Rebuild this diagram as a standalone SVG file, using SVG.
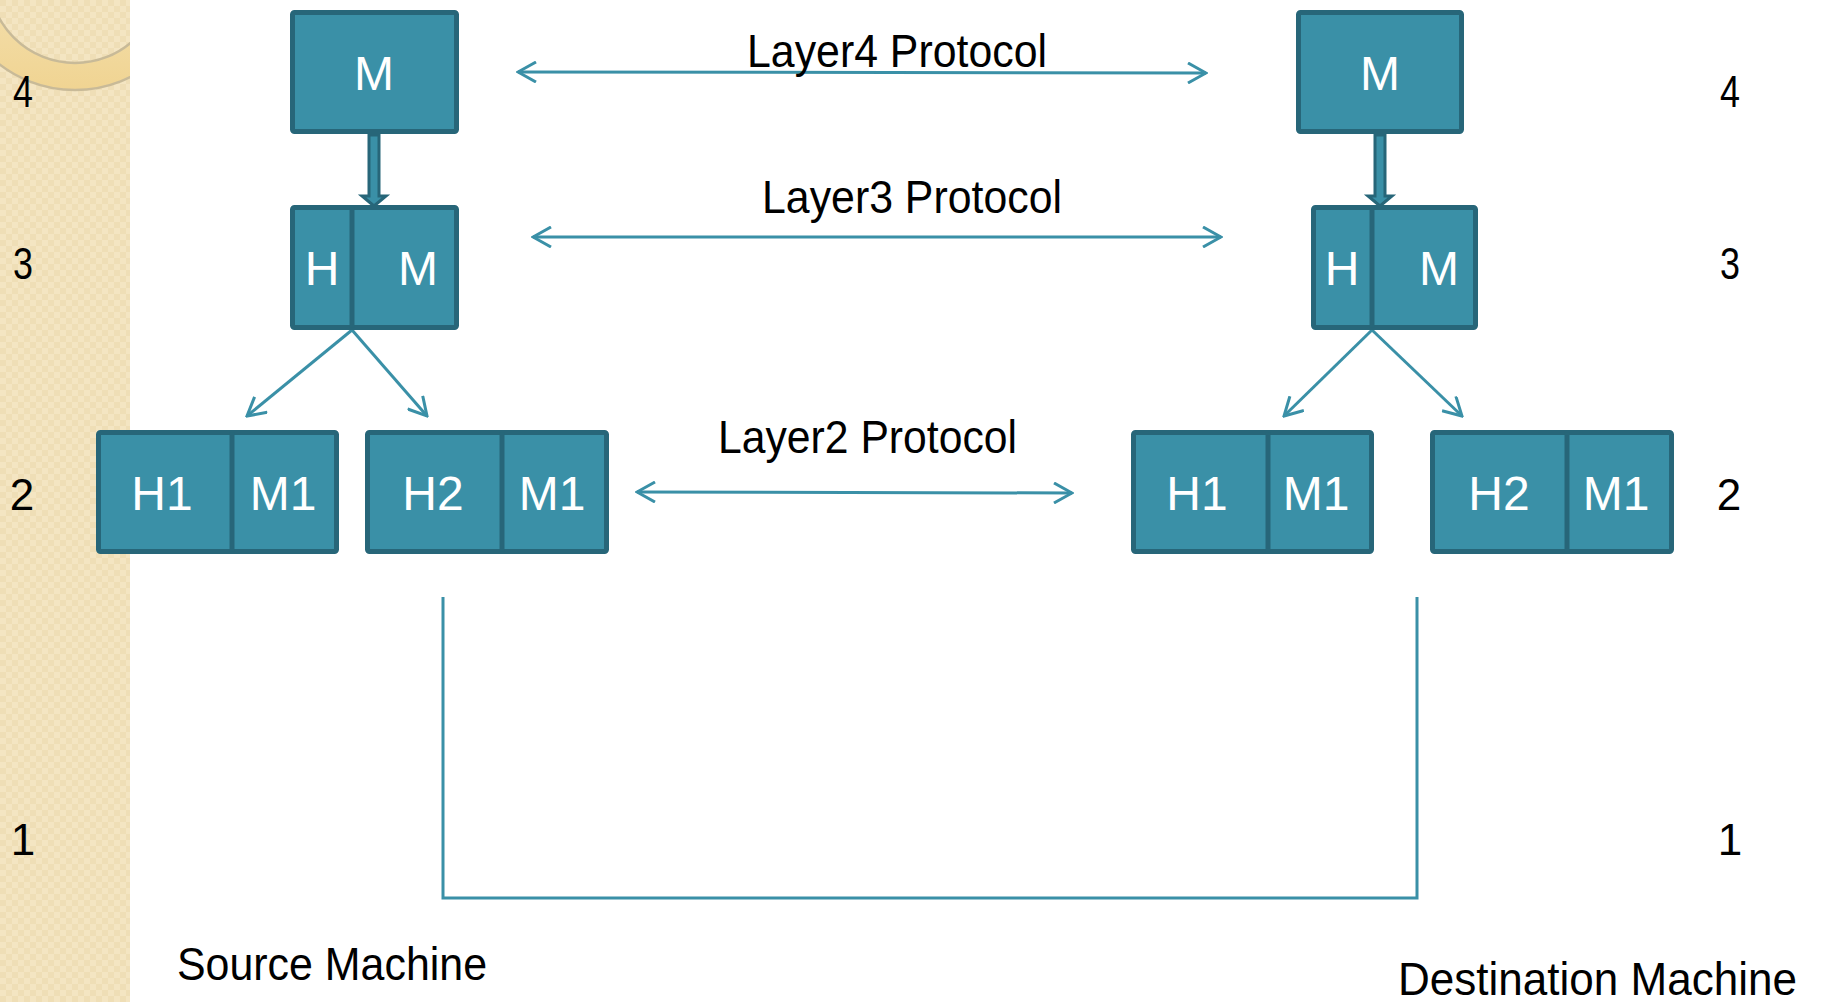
<svg xmlns="http://www.w3.org/2000/svg" width="1821" height="1002" viewBox="0 0 1821 1002">
<style>
.box{fill:#3A90A7;stroke:#276679;stroke-width:5}
.div{stroke:#276679;stroke-width:5}
.bt{font-family:"Liberation Sans",Arial,sans-serif;font-size:48px;fill:#FFFFFF;text-anchor:middle}
.lbl{font-family:"Liberation Sans",Arial,sans-serif;font-size:46px;fill:#000000}
.num{font-family:"Liberation Sans",Arial,sans-serif;font-size:44px;fill:#000000;text-anchor:middle}
.con{fill:none;stroke:#3A90A7;stroke-width:3}
.blk{fill:#3A90A7;stroke:#276679;stroke-width:3;stroke-linejoin:miter}
</style>
<defs>
<pattern id="chk" width="12" height="12" patternUnits="userSpaceOnUse">
<rect width="12" height="12" fill="#F4E5C2"/>
<rect width="6" height="6" fill="#EFDEB6"/>
<rect x="6" y="6" width="6" height="6" fill="#EFDEB6"/>
</pattern>
<linearGradient id="ring" x1="0" y1="0" x2="0" y2="1">
<stop offset="0" stop-color="#F6E7C4"/>
<stop offset="0.5" stop-color="#F5E2B4"/>
<stop offset="1" stop-color="#F0D492"/>
</linearGradient>
<clipPath id="barclip"><rect x="0" y="0" width="130" height="1002"/></clipPath>
<marker id="ah" viewBox="0 0 22 22" refX="20" refY="11" markerWidth="22" markerHeight="22" markerUnits="userSpaceOnUse" orient="auto-start-reverse">
<path d="M2,1 L20,11 L2,21" fill="none" stroke="#3A90A7" stroke-width="3"/>
</marker>
</defs>
<rect x="0" y="0" width="1821" height="1002" fill="#FFFFFF"/>
<g id="sidebar">
<rect x="0" y="0" width="130" height="1002" fill="url(#chk)"/>
<g clip-path="url(#barclip)">
<path d="M-49,-34 a124,124 0 1,0 248,0 a124,124 0 1,0 -248,0 Z M-11.5,-23.5 a86.5,86.5 0 1,1 173,0 a86.5,86.5 0 1,1 -173,0 Z" fill="url(#ring)" fill-rule="evenodd"/>
<circle cx="75" cy="-34" r="124" fill="none" stroke="#C8BA98" stroke-width="2.5"/>
<circle cx="75" cy="-23.5" r="86.5" fill="none" stroke="#C8BA98" stroke-width="2.5"/>
</g>
</g>
<g id="connectors">
<polygon class="blk" points="369,135 379,135 379,196 386,196 374,206 362,196 369,196"/>
<polygon class="blk" points="1375,135 1385,135 1385,196 1392,196 1380,206 1368,196 1375,196"/>
<line class="con" x1="352" y1="330" x2="247" y2="416" marker-end="url(#ah)"/>
<line class="con" x1="352" y1="330" x2="427" y2="416" marker-end="url(#ah)"/>
<line class="con" x1="1372" y1="330" x2="1284" y2="416" marker-end="url(#ah)"/>
<line class="con" x1="1372" y1="330" x2="1462" y2="416" marker-end="url(#ah)"/>
<line class="con" x1="518" y1="72" x2="1206" y2="73" marker-start="url(#ah)" marker-end="url(#ah)"/>
<line class="con" x1="533" y1="237" x2="1221" y2="237" marker-start="url(#ah)" marker-end="url(#ah)"/>
<line class="con" x1="637" y1="492" x2="1072" y2="493" marker-start="url(#ah)" marker-end="url(#ah)"/>
<polyline class="con" points="443,597 443,898 1417,898 1417,597"/>
</g>
<g id="src-l4">
<rect class="box" x="292.5" y="12.5" width="164" height="119" rx="2"/>
<text class="bt" x="374" y="90">M</text>
</g>
<g id="src-l3">
<rect class="box" x="292.5" y="207.5" width="164" height="120" rx="2"/>
<line class="div" x1="352" y1="207.5" x2="352" y2="327.5"/>
<text class="bt" x="322" y="285">H</text>
<text class="bt" x="418" y="285">M</text>
</g>
<g id="src-l2a">
<rect class="box" x="98.5" y="432.5" width="238" height="119" rx="2"/>
<line class="div" x1="232" y1="432.5" x2="232" y2="551.5"/>
<text class="bt" x="162" y="510">H1</text>
<text class="bt" x="283" y="510">M1</text>
</g>
<g id="src-l2b">
<rect class="box" x="367.5" y="432.5" width="239" height="119" rx="2"/>
<line class="div" x1="502" y1="432.5" x2="502" y2="551.5"/>
<text class="bt" x="433" y="510">H2</text>
<text class="bt" x="552" y="510">M1</text>
</g>
<g id="dst-l4">
<rect class="box" x="1298.5" y="12.5" width="163" height="119" rx="2"/>
<text class="bt" x="1380" y="90">M</text>
</g>
<g id="dst-l3">
<rect class="box" x="1313.5" y="207.5" width="162" height="120" rx="2"/>
<line class="div" x1="1372" y1="207.5" x2="1372" y2="327.5"/>
<text class="bt" x="1342" y="285">H</text>
<text class="bt" x="1439" y="285">M</text>
</g>
<g id="dst-l2a">
<rect class="box" x="1133.5" y="432.5" width="238" height="119" rx="2"/>
<line class="div" x1="1268" y1="432.5" x2="1268" y2="551.5"/>
<text class="bt" x="1197" y="510">H1</text>
<text class="bt" x="1316" y="510">M1</text>
</g>
<g id="dst-l2b">
<rect class="box" x="1432.5" y="432.5" width="239" height="119" rx="2"/>
<line class="div" x1="1567" y1="432.5" x2="1567" y2="551.5"/>
<text class="bt" x="1499" y="510">H2</text>
<text class="bt" x="1616" y="510">M1</text>
</g>
<g id="labels">
<text class="lbl" x="747" y="67" textLength="300" lengthAdjust="spacingAndGlyphs">Layer4 Protocol</text>
<text class="lbl" x="762" y="213" textLength="300" lengthAdjust="spacingAndGlyphs">Layer3 Protocol</text>
<text class="lbl" x="718" y="453" textLength="299" lengthAdjust="spacingAndGlyphs">Layer2 Protocol</text>
<text class="lbl" x="177" y="980" textLength="310" lengthAdjust="spacingAndGlyphs">Source Machine</text>
<text class="lbl" x="1398" y="995" textLength="399" lengthAdjust="spacingAndGlyphs">Destination Machine</text>
<text class="num" x="23" y="107" textLength="20" lengthAdjust="spacingAndGlyphs">4</text>
<text class="num" x="23" y="279" textLength="20" lengthAdjust="spacingAndGlyphs">3</text>
<text class="num" x="22" y="510">2</text>
<text class="num" x="23" y="855">1</text>
<text class="num" x="1730" y="107" textLength="20" lengthAdjust="spacingAndGlyphs">4</text>
<text class="num" x="1730" y="279" textLength="20" lengthAdjust="spacingAndGlyphs">3</text>
<text class="num" x="1729" y="510">2</text>
<text class="num" x="1730" y="855">1</text>
</g>
</svg>
